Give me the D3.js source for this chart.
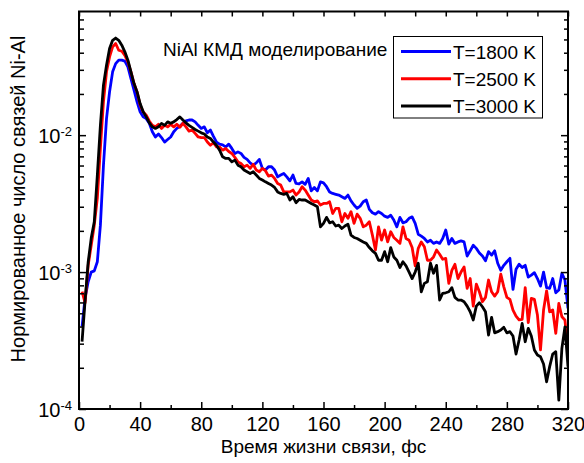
<!DOCTYPE html>
<html>
<head>
<meta charset="utf-8">
<script src="https://cdn.jsdelivr.net/npm/d3@7"></script>
<style>
  html, body { margin: 0; padding: 0; background: #fff; }
  svg { display: block; font-family: "Liberation Sans", Arial, sans-serif; }
</style>
</head>
<body>
<svg id="chart" width="584" height="463"></svg>
<script>
// ---- data ----
const times = [
  2,4,6,8,10,12,14,16,18,20,
  22,24,26,28,30,32,34,36,38,40,
  42,44,46,48,50,52,54,56,58,60,
  62,64,66,68,70,72,74,76,78,80,
  82,84,86,88,90,92,94,96,98,100,
  102,104,106,108,110,112,114,116,118,120,
  122,124,126,128,130,132,134,136,138,140,
  142,144,146,148,150,152,154,156,158,160,
  162,164,166,168,170,172,174,176,178,180,
  182,184,186,188,190,192,194,196,198,200,
  202,204,206,208,210,212,214,216,218,220,
  222,224,226,228,230,232,234,236,238,240,
  242,244,246,248,250,252,254,256,258,260,
  262,264,266,268,270,272,274,276,278,280,
  282,284,286,288,290,292,294,296,298,300,
  302,304,306,308,310,312,314,316,318,320
];

const t1800 = [
  4.0e-4, 6.5e-4, 8.5e-4, 1.0e-3, 1.02e-3, 1.19e-3, 2.2e-3, 6.0e-3, 0.0132, 0.0207,
  0.029, 0.0333, 0.0353, 0.0353, 0.0347, 0.0315, 0.0259, 0.0213, 0.0175, 0.0148,
  0.0136, 0.0132, 0.0122, 0.0106, 0.0097, 0.0102, 0.0096, 0.0089, 0.0093, 0.0097,
  0.0106, 0.0112, 0.0116, 0.0122, 0.0127, 0.0129, 0.0129, 0.0125, 0.0118, 0.0112,
  0.0115, 0.0104, 0.0109, 0.0098, 0.0089, 0.0086, 0.0085, 0.0082, 0.0086, 0.0080,
  0.00735, 0.00755, 0.00735, 0.00688, 0.00665, 0.00627, 0.00604, 0.00627, 0.00665, 0.00572,
  0.00556, 0.00588, 0.00588, 0.00556, 0.00496, 0.00511, 0.00525, 0.00496, 0.00464, 0.00511,
  0.00444, 0.0044, 0.00456, 0.00437, 0.00483, 0.00392, 0.00415, 0.00392, 0.00456, 0.00448,
  0.0042, 0.00385, 0.00375, 0.0037, 0.00365, 0.00355, 0.00345, 0.00365, 0.00331, 0.00309,
  0.00292, 0.00303, 0.00326, 0.00336, 0.00287, 0.00271, 0.00265, 0.00276, 0.00268, 0.00256,
  0.00251, 0.0026, 0.0024, 0.00214, 0.00251, 0.00229, 0.00233, 0.00247, 0.00253, 0.00227,
  0.00189, 0.00183, 0.00176, 0.00166, 0.00171, 0.00162, 0.00166, 0.00162, 0.00176, 0.00203,
  0.0016, 0.00176, 0.00162, 0.00166, 0.00169, 0.00166, 0.00131, 0.00143, 0.00157, 0.00149,
  0.00138, 0.00131, 0.00121, 0.00141, 0.00133, 0.00143, 0.00116, 0.00103, 0.00112, 0.00119,
  0.00126, 0.000747, 0.00105, 0.00114, 0.00108, 0.00112, 0.00092, 0.00095, 0.00099, 0.000897,
  0.00079, 0.0010, 0.00077, 0.00076, 0.000897, 0.000706, 0.00074, 0.00098, 0.000875, 0.000543
];

const t2500 = [
  7.2e-4, 5.95e-4, 1.12e-3, 1.57e-3, 2.2e-3, 3.47e-3, 8.04e-3, 0.0175, 0.029, 0.0373,
  0.0441, 0.0467, 0.0417, 0.041, 0.0383, 0.0343, 0.029, 0.0238, 0.0207, 0.0166,
  0.0148, 0.014, 0.0127, 0.0118, 0.0115, 0.012, 0.0112, 0.0118, 0.0115, 0.012,
  0.0115, 0.012, 0.0114, 0.0122, 0.0115, 0.0107, 0.0109, 0.0103, 0.0097, 0.0096,
  0.0096, 0.0089, 0.00844, 0.0088, 0.0082, 0.0082, 0.00777, 0.0080, 0.0076, 0.00735,
  0.00688, 0.00638, 0.0062, 0.00588, 0.00604, 0.00572, 0.00613, 0.00556, 0.0054, 0.00572,
  0.0055, 0.00502, 0.00511, 0.00483, 0.00444, 0.00432, 0.00385, 0.00385, 0.00385, 0.00397,
  0.00365, 0.00385, 0.0042, 0.00397, 0.00365, 0.00336, 0.00326, 0.00331, 0.00309, 0.00317,
  0.00317, 0.00326, 0.00268, 0.00292, 0.00292, 0.00233, 0.00268, 0.00247, 0.00276, 0.00227,
  0.00265, 0.00247, 0.00214, 0.0022, 0.00233, 0.00186, 0.00145, 0.00214, 0.00171, 0.00203,
  0.00166, 0.00197, 0.00179, 0.00171, 0.00162, 0.00214, 0.00176, 0.00171, 0.00151, 0.00111,
  0.00149, 0.00166, 0.00153, 0.00122, 0.00122, 0.00129, 0.00145, 0.00135, 0.00124, 0.00126,
  0.000827, 0.00103, 0.00114, 0.000897, 0.0010, 0.00109, 0.00076, 0.000897, 0.000564, 0.000817,
  0.000718, 0.000607, 0.000653, 0.000875, 0.000718, 0.000668, 0.000718, 0.000966, 0.00078, 0.000653,
  0.000632, 0.000528, 0.000477, 0.000447, 0.000452, 0.00077, 0.000427, 0.000643, 0.000632, 0.000485,
  0.00027, 0.000528, 0.00073, 0.000513, 0.000528, 0.000357, 0.00059, 0.000472, 0.000447, 0.000262
];

const t3000 = [
  3.1e-4, 6.25e-4, 1.18e-3, 1.77e-3, 2.33e-3, 5.11e-3, 0.0118, 0.0232, 0.0324, 0.043,
  0.0493, 0.0512, 0.0493, 0.0454, 0.0406, 0.0353, 0.029, 0.0238, 0.0207, 0.017,
  0.0148, 0.0136, 0.0123, 0.0115, 0.0112, 0.0115, 0.0122, 0.0118, 0.0125, 0.0122,
  0.0125, 0.013, 0.0136, 0.0129, 0.0123, 0.0118, 0.0114, 0.011, 0.0107, 0.0104,
  0.0102, 0.0097, 0.00945, 0.0089, 0.00844, 0.00777, 0.00695, 0.00676, 0.00676, 0.00638,
  0.00657, 0.00604, 0.00588, 0.00556, 0.0054, 0.00525, 0.0054, 0.00511, 0.00483, 0.0047,
  0.00456, 0.00444, 0.00432, 0.00415, 0.00385, 0.00375, 0.0037, 0.00375, 0.00336, 0.00355,
  0.00321, 0.00339, 0.00336, 0.00336, 0.00326, 0.00317, 0.00309, 0.0030, 0.00214, 0.00227,
  0.00251, 0.00229, 0.00233, 0.00217, 0.0022, 0.00208, 0.00217, 0.00224, 0.00186, 0.00179,
  0.00176, 0.00171, 0.00166, 0.00162, 0.00151, 0.00143, 0.00137, 0.00122, 0.00122, 0.00141,
  0.00119, 0.00151, 0.00129, 0.00122, 0.00108, 0.00119, 0.00111, 0.0010, 0.000897, 0.0010,
  0.00116, 0.000718, 0.000827, 0.000849, 0.00116, 0.00098, 0.00112, 0.000625, 0.0007, 0.000706,
  0.000718, 0.00077, 0.000653, 0.000625, 0.000625, 0.000607, 0.000564, 0.000513, 0.000447, 0.000564,
  0.000597, 0.000558, 0.000513, 0.000347, 0.000467, 0.00036, 0.000367, 0.000377, 0.000395, 0.00036,
  0.000367, 0.000341, 0.000252, 0.000319, 0.000422, 0.00031, 0.000388, 0.000341, 0.00027, 0.000248,
  0.000241, 0.000213, 0.000158, 0.000204, 0.000252, 0.000262, 0.000116, 0.000277, 0.000398, 0.000204
];

const seriesNames = ["T=1800 K", "T=2500 K", "T=3000 K"];
const seriesColors = ["#0000ff", "#ff0000", "#000000"];
const seriesValues = [t1800, t2500, t3000];

const xMajorTicks = [0, 40, 80, 120, 160, 200, 240, 280, 320];
const xMinorTicks = [20, 60, 100, 140, 180, 220, 260, 300];
const yMajorTicks = [1e-4, 1e-3, 1e-2];
const yMajorExps = ["-4", "-3", "-2"];
const yMinorTicks = [2e-4,3e-4,4e-4,5e-4,6e-4,7e-4,8e-4,9e-4,
                     2e-3,3e-3,4e-3,5e-3,6e-3,7e-3,8e-3,9e-3,
                     2e-2,3e-2,4e-2,5e-2,6e-2,7e-2];

const titleText = "NiAl КМД моделирование";
const xLabel = "Время жизни связи, фс";
const yLabel = "Нормированное число связей Ni-Al";

// ---- layout ----
const pLeft = 79, pRight = 568, pTop = 11.5, pBottom = 409;
const svg = d3.select("#chart");
const x = d3.scaleLinear().domain([0, 320]).range([pLeft, pRight]);
const y = d3.scaleLog().domain([1e-4, 0.08]).range([pBottom, pTop]);

// clip
svg.append("defs").append("clipPath").attr("id", "clip")
  .append("rect").attr("x", pLeft).attr("y", pTop)
  .attr("width", pRight - pLeft).attr("height", pBottom - pTop);

// lines
const line = d3.line().x((d, i) => x(times[i])).y(d => y(d));
const linesG = svg.append("g").attr("clip-path", "url(#clip)");
[0, 1, 2].forEach(k => {
  linesG.append("path")
    .datum(seriesValues[k])
    .attr("d", line)
    .attr("fill", "none")
    .attr("stroke", seriesColors[k])
    .attr("stroke-width", 2.8)
    .attr("stroke-linejoin", "round");
});

// axes
function styleAxis(g) {
  g.select(".domain").remove();
  g.selectAll("line").attr("stroke", "#000").attr("stroke-width", 1.5);
  g.selectAll("text").attr("fill", "#000");
}
// bottom
svg.append("g").attr("transform", `translate(0,${pBottom})`)
  .call(d3.axisBottom(x).tickValues(xMajorTicks).tickSizeInner(-7).tickSizeOuter(0).tickPadding(8))
  .call(styleAxis)
  .call(g => g.selectAll("text").attr("font-size", 20).attr("font-family", "Liberation Sans, Arial, sans-serif"));
svg.append("g").attr("transform", `translate(0,${pBottom})`)
  .call(d3.axisBottom(x).tickValues(xMinorTicks).tickSizeInner(-4).tickSizeOuter(0).tickFormat(""))
  .call(styleAxis);
// top
svg.append("g").attr("transform", `translate(0,${pTop})`)
  .call(d3.axisTop(x).tickValues(xMajorTicks.concat(xMinorTicks)).tickSizeInner(-5).tickSizeOuter(0).tickFormat(""))
  .call(styleAxis);
// left
const leftMajor = svg.append("g").attr("transform", `translate(${pLeft},0)`)
  .call(d3.axisLeft(y).tickValues(yMajorTicks).tickSizeInner(-7).tickSizeOuter(0).tickFormat(""))
  .call(styleAxis);
leftMajor.selectAll(".tick").each(function(d, i) {
  const t = d3.select(this).append("text")
    .attr("x", -7).attr("y", 7)
    .attr("text-anchor", "end")
    .attr("fill", "#000")
    .attr("font-size", 20);
  t.append("tspan").text("10");
  t.append("tspan").attr("font-size", 13).attr("dy", -7).text(yMajorExps[i]);
});
svg.append("g").attr("transform", `translate(${pLeft},0)`)
  .call(d3.axisLeft(y).tickValues(yMinorTicks).tickSizeInner(-5).tickSizeOuter(0).tickFormat(""))
  .call(styleAxis);
// right
svg.append("g").attr("transform", `translate(${pRight},0)`)
  .call(d3.axisRight(y).tickValues(yMajorTicks).tickSizeInner(-7).tickSizeOuter(0).tickFormat(""))
  .call(styleAxis);
svg.append("g").attr("transform", `translate(${pRight},0)`)
  .call(d3.axisRight(y).tickValues(yMinorTicks).tickSizeInner(-4).tickSizeOuter(0).tickFormat(""))
  .call(styleAxis);

// frame
svg.append("rect")
  .attr("x", pLeft).attr("y", pTop)
  .attr("width", pRight - pLeft).attr("height", pBottom - pTop)
  .attr("fill", "none").attr("stroke", "#000").attr("stroke-width", 2);

// axis titles
svg.append("text")
  .attr("x", (pLeft + pRight) / 2).attr("y", 453)
  .attr("text-anchor", "middle").attr("font-size", 19).attr("fill", "#000")
  .text(xLabel);
svg.append("text")
  .attr("transform", `translate(25,199) rotate(-90)`)
  .attr("text-anchor", "middle").attr("font-size", 20).attr("fill", "#000")
  .text(yLabel);

// plot title
svg.append("text")
  .attr("x", 163).attr("y", 56)
  .attr("font-size", 19).attr("fill", "#000")
  .text(titleText);

// legend
const lg = svg.append("g");
lg.append("rect")
  .attr("x", 393.5).attr("y", 36.5).attr("width", 149).attr("height", 81.5)
  .attr("fill", "#fff").attr("stroke", "#000").attr("stroke-width", 1);
seriesNames.forEach((name, k) => {
  const ly = 51.5 + k * 27.3;
  lg.append("line")
    .attr("x1", 401).attr("x2", 451).attr("y1", ly).attr("y2", ly)
    .attr("stroke", seriesColors[k]).attr("stroke-width", 3);
  lg.append("text")
    .attr("x", 453).attr("y", ly + 7)
    .attr("font-size", 19).attr("fill", "#000")
    .text(name);
});
</script>
</body>
</html>
